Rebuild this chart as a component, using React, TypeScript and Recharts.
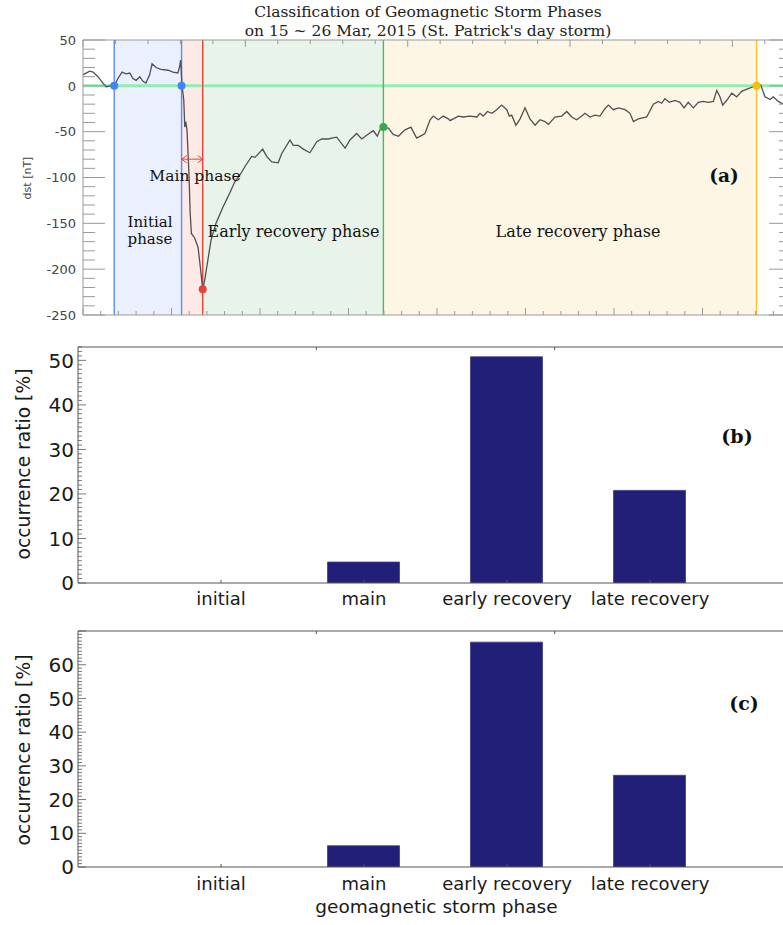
import React from 'react';
import {
  ComposedChart,
  Line,
  Bar,
  XAxis,
  YAxis,
  ReferenceArea,
  ReferenceLine,
  ReferenceDot,
} from 'recharts';

// ---------- data: panel (a) Dst index ----------
const dstHours = [
  0, 2.7, 4.1, 6.1, 8.1, 9.4, 11, 12.7, 14.2, 15.9, 17.5, 19.0, 20.3, 21.6, 23.1, 24.4, 25.6, 27.1, 28.1, 29.7,
  31.7, 34.6, 36.6, 38.6, 39.3, 39.7, 40.3, 41.0, 41.4, 41.8, 42.3, 43.1, 43.6, 44.1, 45.4, 46.8, 47.7, 48.7,
  49.5, 50.8, 52.1, 54.1, 57.0, 59.7, 61.7, 63.9, 65.9, 68.6, 70.0, 73.1, 74.7, 76.8, 79.4, 80.8, 84.2, 85.5,
  87.6, 89.6, 92.3, 95.1, 97.1, 99.8, 101.2, 103.2, 106.6, 108.6, 111.3, 113.4, 115.4, 118.1, 119.7, 120.8,
  122.2, 124.2, 126.2, 128.3, 131.0, 133.4, 135.7, 137.8, 139.1, 141.2, 142.5, 144.5, 146.6, 148.6, 149.3,
  152.7, 154.7, 157.4, 160.2, 161.5, 162.8, 164.5, 166.3, 168.3, 170.3, 172.4, 173.4, 174.4, 176.1, 177.8,
  179.8, 181.8, 183.9, 185.9, 187.9, 189.3, 192.0, 194.7, 196.8, 198.8, 200.8, 202.9, 204.2, 206.2, 208.3,
  210.3, 212.3, 213.7, 215.7, 217.8, 220.5, 222.5, 223.9, 225.9, 229.3, 232.0, 234.0, 235.4, 236.7, 238.5,
  240.8, 242.8, 244.5, 246.2, 248.3, 250.3, 252.3, 254.4, 256.4, 257.8, 259.1, 260.2, 261.8, 263.9, 265.9,
  267.9, 270.6, 272.7, 274.0, 275.7, 277.4, 279.5, 280.8, 282.8, 284.9, 288,
];
const dstValues = [
  12, 16, 15, 10, 3, -1, 0, 0, 8, 15, 13, 14, 8, 6, 10, 5, 3, 12, 24, 20,
  18, 17, 15, 14, 21, 28, 0, -16, -45, -39, -48, -96, -139, -161, -166, -176, -197, -222,
  -212, -190, -168, -150, -132, -117, -105, -97, -88, -77, -78, -69, -77, -83, -84, -74, -59, -65,
  -65, -69, -73, -61, -58, -58, -57, -56, -68, -59, -52, -58, -54, -49, -55, -48,
  -45, -46, -53, -55, -48, -45, -57, -54, -52, -37, -33, -37, -33, -36, -38,
  -33, -34, -33, -34, -30, -33, -28, -30, -26, -21, -26, -33, -32, -43, -36,
  -24, -36, -43, -37, -39, -42, -34, -33, -28, -34, -37, -33, -30, -34, -32,
  -33, -25, -21, -26, -24, -26, -30, -39, -36, -34, -20, -17, -19, -14, -18,
  -16, -18, -24, -18, -24, -18, -17, -18, -17, -5, -12, -21, -16, -8, -12,
  -6, -3, -1, 0, 1, -12, -15, -12, -17, -20, -15,
];
const phaseBoundaryHours = [12.7, 40.1, 48.7, 122.2, 274.0];
const phaseBoundaryDst = [0, 0, -222, -45, 0];
const mainPhaseArrowDst = -80;
const dstTickLabels = [-250, -200, -150, -100, -50, 0, 50];

// ---------- data: panels (b) and (c) ----------
const phaseNames = ['initial', 'main', 'early recovery', 'late recovery'];
const ratioPanelB = [0, 4.7, 50.8, 20.8];
const ratioPanelC = [0, 6.3, 66.7, 27.2];
const ratioTickLabelsB = [0, 10, 20, 30, 40, 50];
const ratioTickLabelsC = [0, 10, 20, 30, 40, 50, 60];

// ---------- styles ----------
const phaseFills = ['#eaf0fd', '#fde9e6', '#e8f3ea', '#fdf6e5'];
const boundaryColors = ['#5b8def', '#5b8def', '#ea4335', '#4cb865', '#f7c02e'];
const dotColors = ['#4285f4', '#4285f4', '#ea4335', '#34a853', '#fbbc04'];
const FRAME_A = '#9a9a9a';
const FRAME_B = '#555555';
const BAR_COLOR = '#211f77';

const hourTicks = Array.from({ length: 41 }, (_, i) => i * 7.2);
const dstMinorTicks = Array.from({ length: 31 }, (_, i) => -250 + i * 10);

const DstLeftTick = (p: any) => {
  const { x, y, payload } = p;
  const v = payload.value;
  const major = dstTickLabels.includes(v);
  return (
    <g>
      <line x1={x + 7} x2={x + 7 + (major ? 22 : 12)} y1={y} y2={y} stroke={FRAME_A} strokeWidth={1} />
      {major && (
        <text x={x} y={y} dy="0.36em" textAnchor="end" fontFamily="DejaVu Sans" fontSize={13} fill="#444">
          {v}
        </text>
      )}
    </g>
  );
};

const DstRightTick = (p: any) => {
  const { x, y, payload } = p;
  const major = dstTickLabels.includes(payload.value);
  return <line x1={x} x2={x - (major ? 22 : 12)} y1={y} y2={y} stroke={FRAME_A} strokeWidth={1} />;
};

const HourTick = (p: any) => {
  const { x, y, payload, dir } = p;
  const major = Math.round(payload.value / 7.2) % 5 === 0;
  const len = major ? 7 : 4;
  return <line x1={x} x2={x} y1={y} y2={y + dir * len} stroke={FRAME_A} strokeWidth={1} />;
};

const ArrowShape = (p: any) => {
  const { x1, y1, x2, y2 } = p;
  const h = 5;
  return (
    <g stroke="#ea4335" strokeWidth={1} fill="none">
      <line x1={x1} y1={y1} x2={x2} y2={y2} />
      <path d={`M${x1 + h},${y1 - 3.5} L${x1},${y1} L${x1 + h},${y1 + 3.5}`} />
      <path d={`M${x2 - h},${y2 - 3.5} L${x2},${y2} L${x2 - h},${y2 + 3.5}`} />
    </g>
  );
};

function DstPanel() {
  const data = dstHours.map((h, i) => ({ h, dst: dstValues[i] }));
  const areas = [0, 1, 2, 3];
  return (
    <div style={{ position: 'absolute', left: 0, top: 0 }}>
      <ComposedChart width={800} height={326} data={data} margin={{ top: 40, right: 9, bottom: 11, left: 0 }}>
        {areas.map((i) => (
          <ReferenceArea
            key={'a' + i}
            xAxisId="b"
            yAxisId="main"
            x1={phaseBoundaryHours[i]}
            x2={phaseBoundaryHours[i + 1]}
            y1={-250}
            y2={50}
            fill={phaseFills[i]}
            fillOpacity={1}
            stroke="none"
            zIndex={50}
          />
        ))}
        <ReferenceLine xAxisId="b" yAxisId="main" y={0} stroke="#92ecb4" strokeWidth={3} zIndex={60} />
        {phaseBoundaryHours.map((h, i) => (
          <ReferenceLine
            key={'l' + i}
            xAxisId="b"
            yAxisId="main"
            x={h}
            stroke={boundaryColors[i]}
            strokeWidth={1.4}
            zIndex={60}
          />
        ))}
        <Line
          xAxisId="b"
          yAxisId="main"
          dataKey="dst"
          type="linear"
          stroke="#505050"
          strokeWidth={1.3}
          dot={false}
          isAnimationActive={false}
        />
        {phaseBoundaryHours.map((h, i) => (
          <ReferenceDot
            key={'d' + i}
            xAxisId="b"
            yAxisId="main"
            x={h}
            y={phaseBoundaryDst[i]}
            r={4}
            fill={dotColors[i]}
            stroke="none"
            zIndex={700}
          />
        ))}
        <ReferenceLine
          xAxisId="b"
          yAxisId="main"
          segment={[
            { x: phaseBoundaryHours[1], y: mainPhaseArrowDst },
            { x: phaseBoundaryHours[2], y: mainPhaseArrowDst },
          ]}
          shape={<ArrowShape />}
          zIndex={700}
        />
        <XAxis
          xAxisId="b"
          dataKey="h"
          type="number"
          domain={[0, 288]}
          allowDataOverflow
          ticks={hourTicks}
          interval={0}
          mirror
          height={0.01}
          tickSize={0}
          tickMargin={0}
          tickLine={false}
          axisLine={{ stroke: FRAME_A }}
          tick={<HourTick dir={-1} />}
        />
        <XAxis
          xAxisId="t"
          orientation="top"
          type="number"
          domain={[0, 288]}
          allowDataOverflow
          ticks={hourTicks}
          interval={0}
          mirror
          height={0.01}
          tickSize={0}
          tickMargin={0}
          tickLine={false}
          axisLine={{ stroke: FRAME_A }}
          tick={<HourTick dir={1} />}
        />
        <YAxis
          yAxisId="main"
          type="number"
          domain={[-250, 50]}
          allowDataOverflow
          ticks={dstMinorTicks}
          interval={0}
          width={83}
          tickSize={0}
          tickMargin={7}
          tickLine={false}
          axisLine={{ stroke: FRAME_A }}
          tick={<DstLeftTick />}
        />
        <YAxis
          yAxisId="r"
          orientation="right"
          type="number"
          domain={[-250, 50]}
          allowDataOverflow
          ticks={dstMinorTicks}
          interval={0}
          mirror
          width={0.01}
          tickSize={0}
          tickMargin={0}
          tickLine={false}
          axisLine={{ stroke: FRAME_A }}
          tick={<DstRightTick />}
        />
      </ComposedChart>
    </div>
  );
}

const CatTick = (p: any) => {
  const { x, y, payload, gap } = p;
  return (
    <g>
      <line x1={x} x2={x} y1={y - gap} y2={y - gap - 3} stroke={FRAME_B} strokeWidth={1} />
      <text x={x} y={y} dy="0.71em" textAnchor="middle" fontFamily="DejaVu Sans" fontSize={18} fill="#1a1a1a">
        {phaseNames[payload.value - 1]}
      </text>
    </g>
  );
};

const TopCatTick = (p: any) => {
  const { x, y } = p;
  return <line x1={x} x2={x} y1={y} y2={y + 3} stroke={FRAME_B} strokeWidth={1} />;
};

const RatioYTick = (p: any) => {
  const { x, y, payload, labels } = p;
  const v = payload.value;
  const major = v % 10 === 0;
  return (
    <g>
      <line x1={x + 4} x2={x + 4 + (major ? 8 : 4)} y1={y} y2={y} stroke={FRAME_B} strokeWidth={0.8} />
      {labels.includes(v) && (
        <text x={x} y={y} dy="0.36em" textAnchor="end" fontFamily="DejaVu Sans" fontSize={20} fill="#1a1a1a">
          {v}
        </text>
      )}
    </g>
  );
};

function RatioPanel({ values, top, yMax, labels, gap }: any) {
  const data = phaseNames.map((name, i) => ({ pos: i + 1, name, ratio: values[i] }));
  const yTicks = Array.from({ length: Math.floor(yMax) + 1 }, (_, i) => i);
  return (
    <div style={{ position: 'absolute', left: 0, top }}>
      <ComposedChart width={800} height={296} data={data} margin={{ top: 20, right: 7, bottom: 0, left: 0 }}>
        <Bar
          xAxisId="b"
          yAxisId="l"
          dataKey="ratio"
          fill={BAR_COLOR}
          stroke="#3c3b8c"
          strokeWidth={0.8}
          barSize={72}
          isAnimationActive={false}
        />
        <XAxis
          xAxisId="b"
          dataKey="pos"
          type="number"
          domain={[0, 5]}
          allowDataOverflow
          ticks={[1, 2, 3, 4]}
          interval={0}
          height={40}
          tickSize={0}
          tickMargin={gap}
          tickLine={false}
          axisLine={{ stroke: FRAME_B }}
          tick={<CatTick gap={gap} />}
        />
        <XAxis
          xAxisId="t"
          orientation="top"
          type="number"
          domain={[0, 5]}
          allowDataOverflow
          ticks={[1, 2, 3, 4]}
          interval={0}
          mirror
          height={0.01}
          tickSize={0}
          tickMargin={0}
          tickLine={false}
          axisLine={{ stroke: FRAME_B }}
          tick={<TopCatTick />}
        />
        <YAxis
          yAxisId="l"
          type="number"
          domain={[0, yMax]}
          allowDataOverflow
          ticks={yTicks}
          interval={0}
          width={78}
          tickSize={0}
          tickMargin={4}
          tickLine={false}
          axisLine={{ stroke: FRAME_B }}
          tick={<RatioYTick labels={labels} />}
        />
      </ComposedChart>
    </div>
  );
}

function Overlay() {
  const serif = 'DejaVu Serif';
  const sans = 'DejaVu Sans';
  return (
    <svg
      width={783}
      height={925}
      style={{ position: 'absolute', left: 0, top: 0, pointerEvents: 'none' }}
    >
      <text x={428} y={16.5} textAnchor="middle" fontFamily={serif} fontSize={15.5} fill="#222">
        Classification of Geomagnetic Storm Phases
      </text>
      <text x={428} y={35.5} textAnchor="middle" fontFamily={serif} fontSize={15.5} fill="#222">
        on 15 ~ 26 Mar, 2015 (St. Patrick's day storm)
      </text>
      <text x={195} y={180.5} textAnchor="middle" fontFamily={serif} fontSize={15.5} fill="#111">
        Main phase
      </text>
      <text x={150} y={227} textAnchor="middle" fontFamily={serif} fontSize={15} fill="#111">
        Initial
      </text>
      <text x={150} y={244} textAnchor="middle" fontFamily={serif} fontSize={15} fill="#111">
        phase
      </text>
      <text x={293.5} y={236.5} textAnchor="middle" fontFamily={serif} fontSize={16} fill="#111">
        Early recovery phase
      </text>
      <text x={578} y={236.5} textAnchor="middle" fontFamily={serif} fontSize={16} fill="#111">
        Late recovery phase
      </text>
      <text x={724} y={182} textAnchor="middle" fontFamily={serif} fontWeight="bold" fontSize={18.5} fill="#111">
        (a)
      </text>
      <text x={737} y={443} textAnchor="middle" fontFamily={serif} fontWeight="bold" fontSize={19} fill="#111">
        (b)
      </text>
      <text x={744} y={710} textAnchor="middle" fontFamily={serif} fontWeight="bold" fontSize={19} fill="#111">
        (c)
      </text>
      <text
        transform="translate(27,178) rotate(-90)"
        textAnchor="middle"
        dy="0.35em"
        fontFamily={sans}
        fontSize={11}
        fill="#444"
      >
        dst [nT]
      </text>
      <text
        transform="translate(23,464) rotate(-90)"
        textAnchor="middle"
        dy="0.35em"
        fontFamily={sans}
        fontSize={18.7}
        fill="#1a1a1a"
      >
        occurrence ratio [%]
      </text>
      <text
        transform="translate(23,750) rotate(-90)"
        textAnchor="middle"
        dy="0.35em"
        fontFamily={sans}
        fontSize={18.7}
        fill="#1a1a1a"
      >
        occurrence ratio [%]
      </text>
      <text x={436.5} y={913} textAnchor="middle" fontFamily={sans} fontSize={18.5} fill="#1a1a1a">
        geomagnetic storm phase
      </text>
    </svg>
  );
}

export default function App() {
  return (
    <div
      style={{
        position: 'absolute',
        left: 0,
        top: 0,
        width: 783,
        height: 925,
        overflow: 'hidden',
        background: '#ffffff',
      }}
    >
      <DstPanel />
      <RatioPanel values={ratioPanelB} top={327} yMax={53} labels={ratioTickLabelsB} gap={9} />
      <RatioPanel values={ratioPanelC} top={611} yMax={70} labels={ratioTickLabelsC} gap={10} />
      <Overlay />
    </div>
  );
}
